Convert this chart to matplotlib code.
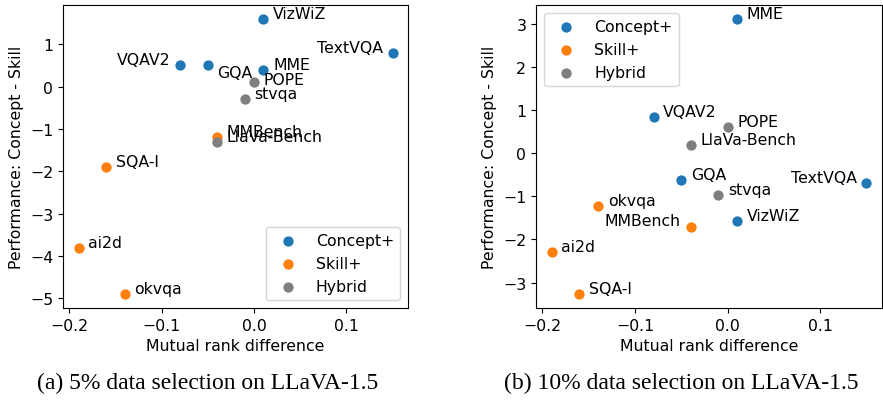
import numpy as np
import matplotlib.pyplot as plt

# benchmark names and groups
names = ['VQAV2', 'GQA', 'VizWiZ', 'TextVQA', 'MME', 'POPE', 'stvqa',
         'LlaVa-Bench', 'MMBench', 'SQA-I', 'ai2d', 'okvqa']
groups = ['Concept+', 'Concept+', 'Concept+', 'Concept+', 'Concept+', 'Hybrid', 'Hybrid',
          'Hybrid', 'Skill+', 'Skill+', 'Skill+', 'Skill+']

# (a) 5% data selection
x_5 = [-0.08, -0.05, 0.01, 0.15, 0.01, 0.0, -0.01, -0.04, -0.04, -0.16, -0.19, -0.14]
y_5 = [0.5, 0.5, 1.6, 0.8, 0.4, 0.1, -0.3, -1.3, -1.2, -1.9, -3.8, -4.9]

# (b) 10% data selection
x_10 = [-0.08, -0.05, 0.01, 0.15, 0.01, 0.0, -0.01, -0.04, -0.04, -0.16, -0.19, -0.14]
y_10 = [0.85, -0.62, -1.57, -0.7, 3.12, 0.6, -0.97, 0.2, -1.7, -3.27, -2.3, -1.22]

colors = {'Concept+': '#1f77b4', 'Skill+': '#ff7f0e', 'Hybrid': '#7f7f7f'}
order = ['Concept+', 'Skill+', 'Hybrid']

fs = 11.3
# label placement (offset points)
right_up = (7, 4)
off_5 = {'VQAV2': (-7, 4), 'TextVQA': (-7, 4), 'GQA': (7, -5), 'POPE': (7, 2)}
off_10 = {'TextVQA': (-7, 4), 'MMBench': (-7, 4)}

fig = plt.figure(figsize=(8.83, 4.06), dpi=100)
ax1 = fig.add_axes([0.0713, 0.239, 0.391, 0.746])
ax2 = fig.add_axes([0.607, 0.239, 0.392, 0.746])


def draw(ax, xs, ys, offsets, legend_loc):
    xs = np.array(xs)
    ys = np.array(ys)
    g = np.array(groups)
    for grp in order:
        m = g == grp
        ax.scatter(xs[m], ys[m], s=55, color=colors[grp], label=grp, linewidths=0)
    for n, xv, yv in zip(names, xs, ys):
        dx, dy = offsets.get(n, right_up)
        ax.annotate(n, (xv, yv), xytext=(dx, dy), textcoords='offset points',
                    ha='left' if dx > 0 else 'right', va='center', fontsize=fs)
    ax.set_xlabel('Mutual rank difference', fontsize=fs)
    ax.set_ylabel('Performance: Concept - Skill', fontsize=fs)
    ax.set_xticks([-0.2, -0.1, 0.0, 0.1])
    ax.tick_params(labelsize=fs)
    ax.legend(loc=legend_loc, fontsize=fs)


draw(ax1, x_5, y_5, off_5, 'lower right')
ax1.set_yticks([1, 0, -1, -2, -3, -4, -5])
draw(ax2, x_10, y_10, off_10, 'upper left')
ax2.set_yticks([3, 2, 1, 0, -1, -2, -3])

fig.text(0.235, 0.055, '(a) 5% data selection on LLaVA-1.5', ha='center', va='center',
         family='Liberation Serif', fontsize=17)
fig.text(0.771, 0.055, '(b) 10% data selection on LLaVA-1.5', ha='center', va='center',
         family='Liberation Serif', fontsize=17)

fig.savefig('out.png', dpi=100)
